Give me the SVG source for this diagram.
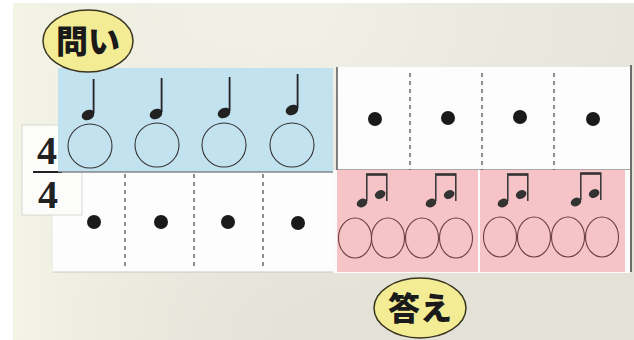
<svg xmlns="http://www.w3.org/2000/svg" width="634" height="340" viewBox="0 0 634 340">
<defs>
<radialGradient id="bg" cx="0.35" cy="0.05" r="0.9">
<stop offset="0" stop-color="#f4f3ea"/>
<stop offset="0.5" stop-color="#e9e9df"/>
<stop offset="1" stop-color="#e2e2d8"/>
</radialGradient>
<linearGradient id="bgl" x1="0" y1="0" x2="1" y2="0">
<stop offset="0" stop-color="#f3f3e6"/>
<stop offset="0.5" stop-color="#e8e8de" stop-opacity="0"/>
</linearGradient>
<g id="q">
<ellipse cx="0" cy="0" rx="6.5" ry="5" transform="rotate(-25)" fill="#222"/>
<line x1="5.6" y1="-2" x2="5.6" y2="-36" stroke="#222" stroke-width="1.8"/>
</g>
<g id="e2">
<ellipse cx="0" cy="0" rx="5.5" ry="4.2" transform="rotate(-25)" fill="#333"/>
<ellipse cx="20" cy="0" rx="5.5" ry="4.2" transform="rotate(-25)" fill="#333"/>
<path d="M4.8,-2 V-29 H24.8 V-2" fill="none" stroke="#333" stroke-width="1.5"/>
<line x1="4.8" y1="-28.2" x2="24.8" y2="-28.2" stroke="#333" stroke-width="2"/>
</g>
</defs>
<style>
.bub{fill:#f3ec95;stroke:#3a3520;stroke-width:1.5}
.btxt{font-family:"Noto Sans CJK JP","Noto Sans CJK SC",sans-serif;font-weight:900;font-size:32px;fill:#1a1a1a}
.card{fill:#fdfdfd}
.dash{stroke:#555;stroke-width:1.3;stroke-dasharray:4,4}
.dot{fill:#1a1a1a}
.circ{fill:none;stroke:#333;stroke-width:1.1}
.ov{fill:none;stroke:#6a4040;stroke-width:1.1}
.ts{font-family:"Liberation Serif",serif;font-weight:bold;font-size:40px;fill:#222}
</style>
<rect x="0" y="0" width="634" height="340" fill="#ffffff"/>
<rect x="13" y="3" width="621" height="337" fill="url(#bg)"/>
<rect x="13" y="3" width="621" height="337" fill="url(#bgl)"/>

<g id="board-right-edge">
<line x1="631" y1="65" x2="631" y2="272" stroke="#444" stroke-width="1.5"/>
</g>

<g id="question-beats">
<rect class="card" x="53" y="172" width="280" height="100"/>
<line x1="53" y1="272" x2="333" y2="272" stroke="#c8c8c0" stroke-width="1"/>
<line class="dash" x1="125" y1="174" x2="125" y2="266"/>
<line class="dash" x1="194" y1="174" x2="194" y2="266"/>
<line class="dash" x1="263" y1="174" x2="263" y2="266"/>
<circle class="dot" cx="94" cy="222" r="7"/>
<circle class="dot" cx="161" cy="222" r="7"/>
<circle class="dot" cx="228" cy="222" r="7"/>
<circle class="dot" cx="298" cy="223" r="7"/>
</g>

<g id="time-signature">
<rect x="22" y="125" width="60" height="90" fill="#fcfcfa" stroke="#d0d0c8" stroke-width="0.8"/>
<text class="ts" x="47" y="164" text-anchor="middle">4</text>
<line x1="33" y1="172" x2="62" y2="172" stroke="#222" stroke-width="2"/>
<text class="ts" x="48" y="208" text-anchor="middle">4</text>
</g>

<g id="question-card">
<rect x="58" y="68" width="275" height="104" fill="#c3e2f0"/>
<use href="#q" x="88" y="115"/>
<use href="#q" x="156" y="114"/>
<use href="#q" x="224" y="113"/>
<use href="#q" x="292" y="110"/>
<circle class="circ" cx="90" cy="146" r="22"/>
<circle class="circ" cx="157" cy="145" r="22"/>
<circle class="circ" cx="224" cy="145" r="22"/>
<circle class="circ" cx="292" cy="145" r="22"/>
<line x1="58" y1="172" x2="333" y2="172" stroke="#555" stroke-width="1"/>
</g>

<g id="answer-beats">
<rect class="card" x="337" y="67" width="293" height="103"/>
<line x1="337" y1="67" x2="337" y2="170" stroke="#333" stroke-width="1.2"/>
<line x1="337" y1="170" x2="630" y2="170" stroke="#555" stroke-width="1"/>
<line class="dash" x1="410" y1="73" x2="410" y2="170"/>
<line class="dash" x1="482" y1="73" x2="482" y2="170"/>
<line class="dash" x1="554" y1="73" x2="554" y2="170"/>
<circle class="dot" cx="375" cy="119" r="7"/>
<circle class="dot" cx="448" cy="118" r="7"/>
<circle class="dot" cx="520" cy="117" r="7"/>
<circle class="dot" cx="593" cy="119" r="7"/>
</g>

<g id="answer-card-1">
<rect x="333" y="170" width="297" height="103" fill="#fbfbfb"/>
<rect x="337" y="170" width="141" height="102" fill="#f6c3c6"/>
<use href="#e2" x="362" y="203"/>
<use href="#e2" x="431" y="203"/>
<ellipse class="ov" cx="355" cy="238" rx="16.5" ry="20"/>
<ellipse class="ov" cx="388" cy="238" rx="16.5" ry="20"/>
<ellipse class="ov" cx="422" cy="238" rx="16.5" ry="20"/>
<ellipse class="ov" cx="456" cy="238" rx="16.5" ry="20"/>
</g>

<g id="answer-card-2">
<rect x="480" y="170" width="145" height="102" fill="#f6c3c6"/>
<use href="#e2" x="503" y="203"/>
<use href="#e2" x="576" y="202"/>
<ellipse class="ov" cx="500" cy="237" rx="16.5" ry="20"/>
<ellipse class="ov" cx="534" cy="237" rx="16.5" ry="20"/>
<ellipse class="ov" cx="568" cy="237" rx="16.5" ry="20"/>
<ellipse class="ov" cx="602" cy="237" rx="16.5" ry="20"/>
</g>

<g id="label-question">
<ellipse class="bub" cx="88" cy="41" rx="45" ry="31"/>
<text class="btxt" x="88" y="53" text-anchor="middle">問い</text>
</g>

<g id="label-answer">
<ellipse class="bub" cx="420" cy="308" rx="46" ry="30"/>
<text class="btxt" x="420" y="320" text-anchor="middle">答え</text>
</g>
</svg>
